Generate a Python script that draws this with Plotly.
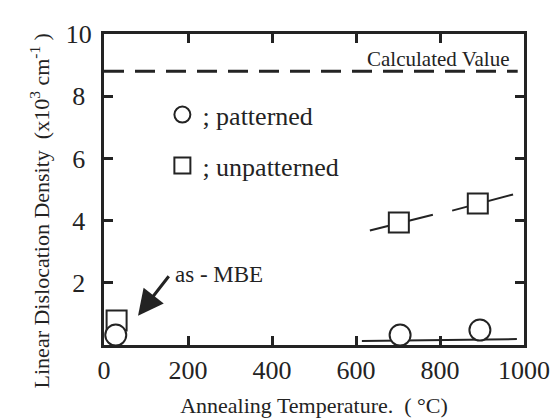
import plotly.graph_objects as go

# Data
pat_x = [28, 705, 895]
pat_y = [0.32, 0.32, 0.48]
unpat_x = [30, 702, 890]
unpat_y = [0.79, 3.94, 4.55]

# guide lines
calc_value = 8.8
calc_x = [0, 985]
pat_line_x = [614, 983]
pat_line_y = [0.13, 0.19]
seg_a_x = [633, 783]
seg_a_y = [3.68, 4.19]
seg_b_x = [829, 974]
seg_b_y = [4.32, 4.84]

x_ticks = [0, 200, 400, 600, 800, 1000]
y_ticks = [2, 4, 6, 8, 10]
y_ticktext = ["2\u2005", "4\u2005", "6\u2005", "8\u2005", "10"]

INK = "#232323"
FONT = "Liberation Serif"

fig = go.Figure()

# line segments
for xs, ys in [(seg_a_x, seg_a_y), (seg_b_x, seg_b_y), (pat_line_x, pat_line_y)]:
    fig.add_trace(go.Scatter(x=xs, y=ys, mode="lines", line=dict(color=INK, width=2),
                             showlegend=False, hoverinfo="skip", cliponaxis=False))

fig.add_trace(go.Scatter(x=calc_x, y=[calc_value, calc_value], mode="lines",
                         line=dict(color=INK, width=3, dash="20px,11px"),
                         showlegend=False, hoverinfo="skip"))

fig.add_trace(go.Scatter(x=unpat_x, y=unpat_y, mode="markers", name="; unpatterned",
                         legendgroup="b", legendrank=2,
                         marker=dict(symbol="square", size=20, color="white",
                                     line=dict(color=INK, width=2)),
                         cliponaxis=False))
fig.add_trace(go.Scatter(x=pat_x, y=pat_y, mode="markers", name="; patterned",
                         legendgroup="a", legendrank=1,
                         marker=dict(symbol="circle", size=21, color="white",
                                     line=dict(color=INK, width=2)),
                         cliponaxis=False))

fig.add_annotation(x=970, y=9.2, xref="x", yref="y", text="Calculated Value",
                   showarrow=False, xanchor="right", yanchor="middle",
                   font=dict(family=FONT, size=21, color=INK))

fig.add_annotation(x=81, y=0.94, ax=157, ay=2.26, xref="x", yref="y",
                   axref="x", ayref="y", text="", showarrow=True,
                   arrowhead=2, arrowsize=1.7, arrowwidth=3, arrowcolor=INK)
fig.add_annotation(x=165, y=2.26, xref="x", yref="y", text="as - MBE",
                   showarrow=False, xanchor="left", yanchor="middle",
                   font=dict(family=FONT, size=23, color=INK))

# y-axis title (placed as annotation to match the reference position)
fig.add_annotation(x=-0.152, y=0.43, xref="paper", yref="paper",
                   text="Linear Dislocation Density  (x10<sup>3</sup> cm<sup>-1</sup> )",
                   textangle=-90, showarrow=False, xanchor="center", yanchor="middle",
                   font=dict(family=FONT, size=22, color=INK))

axis_common = dict(showline=True, linewidth=3, linecolor=INK, mirror="ticks",
                   ticks="inside", ticklen=9, tickwidth=3, tickcolor=INK,
                   showgrid=False, zeroline=False, automargin=False,
                   tickfont=dict(family=FONT, size=26, color=INK))

fig.update_xaxes(range=[0, 1000], tickvals=x_ticks, ticktext=[str(v) for v in x_ticks],
                 title=dict(text="Annealing Temperature.  ( °C)",
                            font=dict(family=FONT, size=22, color=INK), standoff=14),
                 **axis_common)
fig.update_yaxes(range=[0, 10], tickvals=y_ticks, ticktext=y_ticktext,
                 ticklabelstandoff=4,
                 **axis_common)

# the page body has an 8px margin, so the figure is shifted by 8px
fig.update_layout(
    width=552, height=412,
    margin=dict(l=96, r=36, t=26, b=75),
    paper_bgcolor="white", plot_bgcolor="white",
    showlegend=True,
    legend=dict(x=0.139, y=0.816, xanchor="left", yanchor="top",
                traceorder="grouped", tracegroupgap=14,
                bgcolor="rgba(0,0,0,0)",
                font=dict(family=FONT, size=26, color=INK)),
)

fig.write_html("out.html")
